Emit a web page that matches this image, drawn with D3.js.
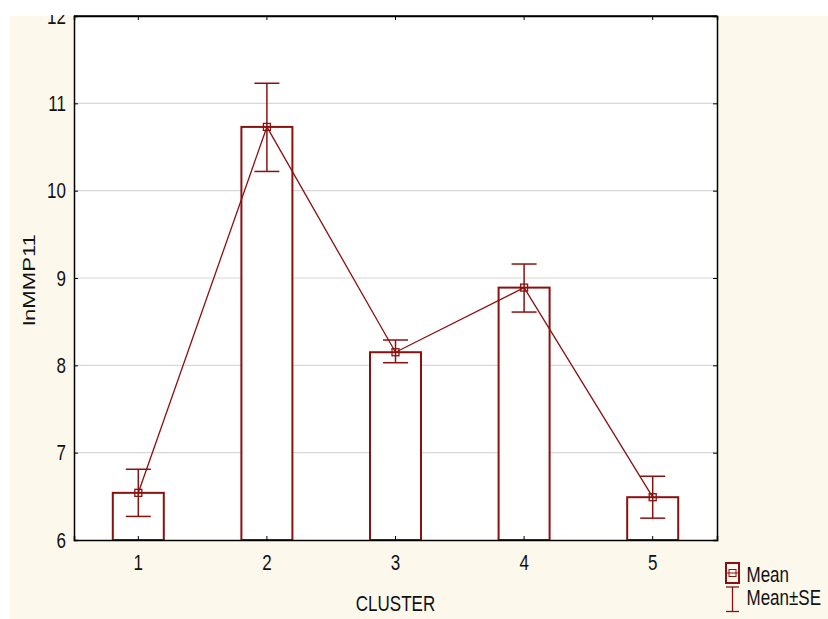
<!DOCTYPE html>
<html>
<head>
<meta charset="utf-8">
<script src="https://cdn.jsdelivr.net/npm/d3@7"></script>
<style>
    body { margin: 0; background: #ffffff; }
    svg { display: block; font-family: Arial, "Liberation Sans", sans-serif; }
</style>
</head>
<body>
<div id="chart"></div>
<script>
// data
const clusters = ["1", "2", "3", "4", "5"];
const means = [6.54, 10.73, 8.15, 8.89, 6.49];
const seLow = [6.27, 10.22, 8.03, 8.61, 6.25];
const seHigh = [6.81, 11.23, 8.29, 9.16, 6.73];
const yTicks = [6, 7, 8, 9, 10, 11, 12];

const width = 828;
const height = 619;
const marginTop = 16;
const marginRight = 111;
const marginBottom = 79;
const marginLeft = 74;

const red = "#8b1111";
const cream = "#fdf8ec";
const fontSize = 17;
const stretch = 1.25; // the original text is drawn tall and narrow

const svg = d3.select("#chart")
    .append("svg")
    .attr("width", width)
    .attr("height", height);

// tall text helper
function addText(parent, tx, ty, str, anchor) {
    return parent.append("text")
        .attr("transform", `translate(${tx},${ty}) scale(1,${stretch})`)
        .attr("text-anchor", anchor || "start")
        .style("font-size", fontSize + "px")
        .style("fill", "#111")
        .text(str);
}

// cream background below the white top strip
svg.append("rect")
    .attr("x", 10)
    .attr("y", marginTop)
    .attr("width", width - 10)
    .attr("height", height - marginTop)
    .attr("fill", cream);

const x = d3.scaleBand()
    .domain(clusters)
    .range([marginLeft, width - marginRight])
    .padding(0);

const y = d3.scaleLinear()
    .domain([6, 12])
    .range([height - marginBottom, marginTop]);

const cx = (d) => x(d) + x.bandwidth() / 2;

// plot area
svg.append("rect")
    .attr("x", marginLeft)
    .attr("y", marginTop)
    .attr("width", width - marginRight - marginLeft)
    .attr("height", height - marginBottom - marginTop)
    .attr("fill", "#ffffff");

// grid lines
svg.append("g")
    .selectAll("line")
    .data(yTicks.slice(1, -1))
    .enter()
    .append("line")
    .attr("x1", marginLeft)
    .attr("x2", width - marginRight)
    .attr("y1", (d) => y(d))
    .attr("y2", (d) => y(d))
    .attr("stroke", "#d8d8d8")
    .attr("stroke-width", 1.2);

// bars
const barW = 51;
svg.append("g")
    .selectAll("rect")
    .data(clusters)
    .enter()
    .append("rect")
    .attr("x", (d) => cx(d) - barW / 2)
    .attr("width", barW)
    .attr("y", (d, i) => y(means[i]))
    .attr("height", (d, i) => y(6) - y(means[i]))
    .attr("fill", "#ffffff")
    .attr("stroke", red)
    .attr("stroke-width", 2);

// error bars
const capW = 25;
const err = svg.append("g")
    .attr("stroke", red)
    .attr("stroke-width", 1.5);

err.selectAll(".whisk")
    .data(clusters)
    .enter()
    .append("line")
    .attr("x1", cx)
    .attr("x2", cx)
    .attr("y1", (d, i) => y(seLow[i]))
    .attr("y2", (d, i) => y(seHigh[i]));

err.selectAll(".capHi")
    .data(clusters)
    .enter()
    .append("line")
    .attr("x1", (d) => cx(d) - capW / 2)
    .attr("x2", (d) => cx(d) + capW / 2)
    .attr("y1", (d, i) => y(seHigh[i]))
    .attr("y2", (d, i) => y(seHigh[i]));

err.selectAll(".capLo")
    .data(clusters)
    .enter()
    .append("line")
    .attr("x1", (d) => cx(d) - capW / 2)
    .attr("x2", (d) => cx(d) + capW / 2)
    .attr("y1", (d, i) => y(seLow[i]))
    .attr("y2", (d, i) => y(seLow[i]));

// mean line
const line = d3.line()
    .x((d, i) => cx(clusters[i]))
    .y((d) => y(d));

svg.append("path")
    .datum(means)
    .attr("d", line)
    .attr("fill", "none")
    .attr("stroke", red)
    .attr("stroke-width", 1.3);

// mean markers
svg.append("g")
    .selectAll("rect")
    .data(clusters)
    .enter()
    .append("rect")
    .attr("x", (d) => cx(d) - 3.5)
    .attr("y", (d, i) => y(means[i]) - 3.5)
    .attr("width", 7)
    .attr("height", 7)
    .attr("fill", "none")
    .attr("stroke", red)
    .attr("stroke-width", 1.3);

// axes
const axisColor = "#000000";

svg.append("g")
    .attr("transform", `translate(${marginLeft},0)`)
    .call(d3.axisRight(y).tickValues(yTicks).tickSize(4).tickFormat(""))
    .select(".domain").attr("stroke", axisColor).attr("stroke-width", 1.5);

svg.append("g")
    .attr("transform", `translate(${width - marginRight},0)`)
    .call(d3.axisLeft(y).tickValues(yTicks).tickSize(4).tickFormat(""))
    .select(".domain").attr("stroke", axisColor).attr("stroke-width", 1.5);

svg.append("g")
    .attr("transform", `translate(0,${height - marginBottom})`)
    .call(d3.axisTop(x).tickSize(4).tickFormat(""))
    .select(".domain").attr("stroke", axisColor).attr("stroke-width", 1.5);

svg.append("g")
    .attr("transform", `translate(0,${marginTop})`)
    .call(d3.axisBottom(x).tickSize(4).tickFormat(""))
    .select(".domain").attr("stroke", axisColor).attr("stroke-width", 1.5);

// tick labels
const capH = 0.716 * fontSize * stretch;
const yLabels = svg.append("g");
yTicks.forEach((t) => addText(yLabels, marginLeft - 8, y(t) + capH / 2, t, "end"));

const xLabels = svg.append("g");
clusters.forEach((c) => addText(xLabels, cx(c), height - marginBottom + 30, c, "middle"));

// axis titles
addText(svg, (marginLeft + width - marginRight) / 2, 611, "CLUSTER", "middle");

svg.append("text")
    .attr("transform", `translate(34.5,${y(9) + 2}) rotate(-90) scale(1.3,1)`)
    .attr("text-anchor", "middle")
    .style("font-size", fontSize + "px")
    .style("fill", "#111")
    .text("lnMMP11");

// white strip on top, clips the "12" label like the original
svg.append("rect")
    .attr("x", 0)
    .attr("y", 0)
    .attr("width", width)
    .attr("height", marginTop - 1)
    .attr("fill", "#ffffff");
svg.append("line")
    .attr("x1", marginLeft)
    .attr("x2", width - marginRight)
    .attr("y1", marginTop)
    .attr("y2", marginTop)
    .attr("stroke", axisColor)
    .attr("stroke-width", 1.5);

// legend
const lg = svg.append("g").attr("transform", "translate(726,563)");
lg.append("rect")
    .attr("x", 0).attr("y", 0).attr("width", 13).attr("height", 20)
    .attr("fill", "none").attr("stroke", red).attr("stroke-width", 2);
lg.append("rect")
    .attr("x", 3).attr("y", 6.5).attr("width", 7).attr("height", 7)
    .attr("fill", "none").attr("stroke", red).attr("stroke-width", 1);
lg.append("line")
    .attr("x1", 1).attr("x2", 12).attr("y1", 10).attr("y2", 10)
    .attr("stroke", red).attr("stroke-width", 1);
addText(lg, 20.5, 18.7, "Mean");

const lg2 = svg.append("g").attr("transform", "translate(726,587)");
const lgErr = lg2.append("g").attr("stroke", red).attr("stroke-width", 1.3);
lgErr.append("line").attr("x1", 0).attr("x2", 13).attr("y1", 0).attr("y2", 0);
lgErr.append("line").attr("x1", 6.5).attr("x2", 6.5).attr("y1", 0).attr("y2", 24.5);
lgErr.append("line").attr("x1", 0).attr("x2", 13).attr("y1", 24.5).attr("y2", 24.5);
addText(lg2, 20.5, 18, "Mean±SE");
</script>
</body>
</html>
